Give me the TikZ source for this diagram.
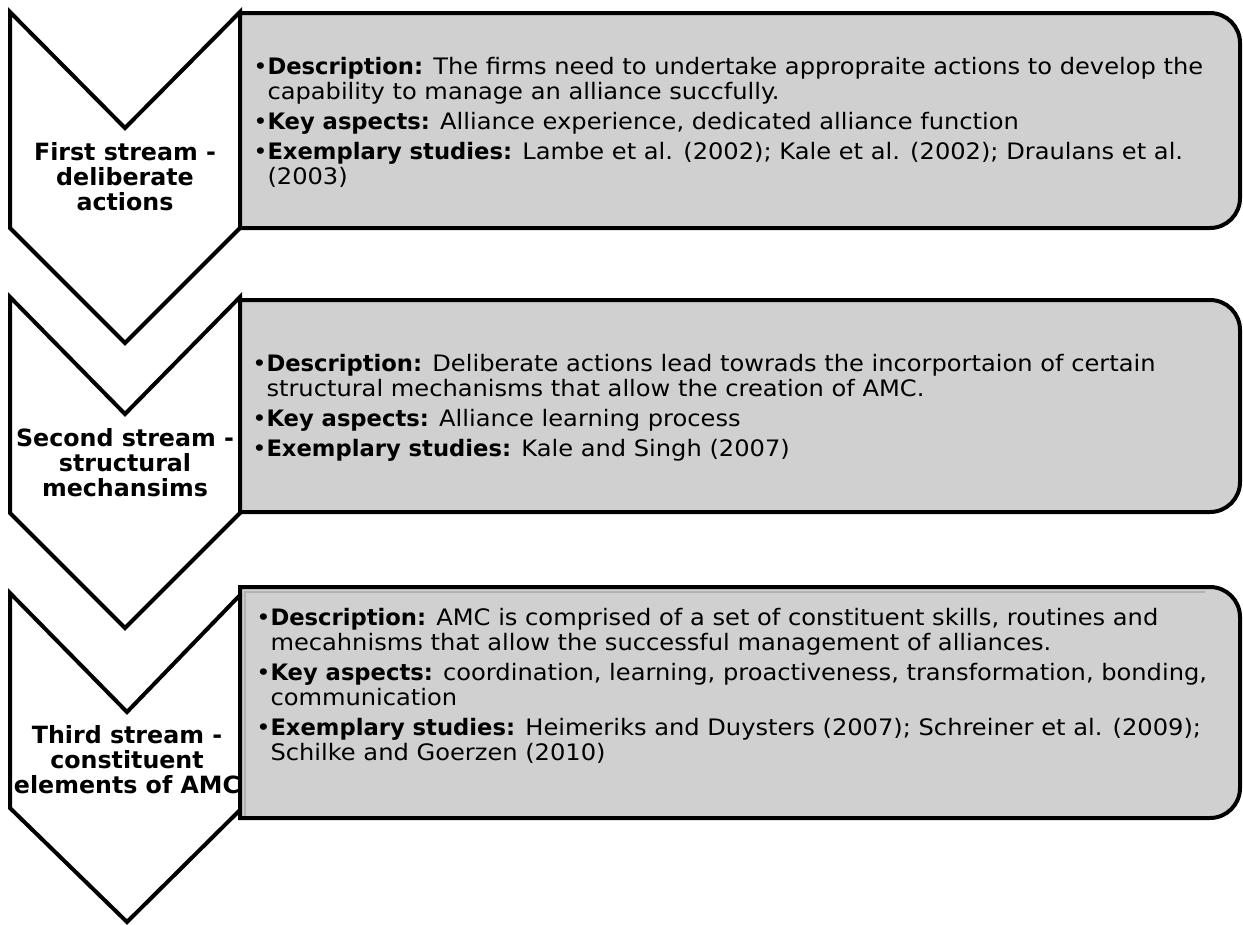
\documentclass[tikz,border=0pt]{standalone}
\usepackage{fontspec}
\setmainfont{DejaVu Sans}[UprightFeatures={FakeStretch=1.065}]
\usetikzlibrary{positioning}
\definecolor{boxgray}{RGB}{208,208,208}
\newcommand{\itm}{\textbullet}
\newcommand{\nxt}{\phantom{\textbullet}}

\begin{document}
\begin{tikzpicture}[x=0.75pt,y=-0.75pt,
    chevron/.style={draw=black,line width=3pt,fill=white,line join=miter},
    infobox/.style={draw=black,line width=3pt,fill=boxgray},
    streamlabel/.style={font=\bfseries\fontsize{17.8}{18.75}\selectfont,align=center,inner sep=0pt},
    infotext/.style={font=\fontsize{17}{18.75}\selectfont,align=left,anchor=west,inner sep=0pt}]
                \useasboundingbox (0,0) rectangle (1243,925);
                % chevrons
                \draw[chevron] (10,12) -- (125,128) -- (240,12) -- (240,228) -- (125,343) -- (10,228) -- cycle;
                \draw[chevron] (10,297) -- (125,414) -- (240,297) -- (240,513) -- (125,628) -- (10,513) -- cycle;
                \draw[chevron] (10,593) -- (127,712) -- (242,593) -- (242,808) -- (127,922) -- (10,808) -- cycle;
                % boxes
                \draw[infobox] (240,13) -- (1210,13) arc[start angle=-90,end angle=0,radius=30]
                    -- (1240,198) arc[start angle=0,end angle=90,radius=30] -- (240,228) -- cycle;
                \draw[infobox] (240,300) -- (1210,300) arc[start angle=-90,end angle=0,radius=30]
                    -- (1240,482) arc[start angle=0,end angle=90,radius=30] -- (240,512) -- cycle;
                \draw[infobox] (240,587) -- (1210,587) arc[start angle=-90,end angle=0,radius=30]
                    -- (1240,788) arc[start angle=0,end angle=90,radius=30] -- (240,818) -- cycle;
                \draw[gray!60,line width=2pt] (245,816) -- (245,592) -- (1205,592);
                % stream labels
                \node[streamlabel] (first) at (125,177) {First stream -\\deliberate\\actions};
                \node[streamlabel] (second) at (125,463) {Second stream -\\structural\\mechansims};
                \node[streamlabel] (third) at (127,760) {Third stream -\\constituent\\elements of AMC};
                % texts
                \node[infotext] (firsttext) at (253,122) {%
                    \itm\textbf{Description:} The firms need to undertake appropraite actions to develop the\\
                    \nxt capability to manage an alliance succfully.\\[3.75pt]
                    \itm\textbf{Key aspects:} Alliance experience, dedicated alliance function\\[3.75pt]
                    \itm\textbf{Exemplary studies:} Lambe et al. (2002); Kale et al. (2002); Draulans et al.\\
                    \nxt(2003)};
                \node[infotext] (secondtext) at (252,408) {%
                    \itm\textbf{Description:} Deliberate actions lead towrads the incorportaion of certain\\
                    \nxt structural mechanisms that allow the creation of AMC.\\[3.75pt]
                    \itm\textbf{Key aspects:} Alliance learning process\\[3.75pt]
                    \itm\textbf{Exemplary studies:} Kale and Singh (2007)};
                \node[infotext] (thirdtext) at (256,686) {%
                    \itm\textbf{Description:} AMC is comprised of a set of constituent skills, routines and\\
                    \nxt mecahnisms that allow the successful management of alliances.\\[3.75pt]
                    \itm\textbf{Key aspects:} coordination, learning, proactiveness, transformation, bonding,\\
                    \nxt communication\\[3.75pt]
                    \itm\textbf{Exemplary studies:} Heimeriks and Duysters (2007); Schreiner et al. (2009);\\
                    \nxt Schilke and Goerzen (2010)};
\end{tikzpicture}
\end{document}
